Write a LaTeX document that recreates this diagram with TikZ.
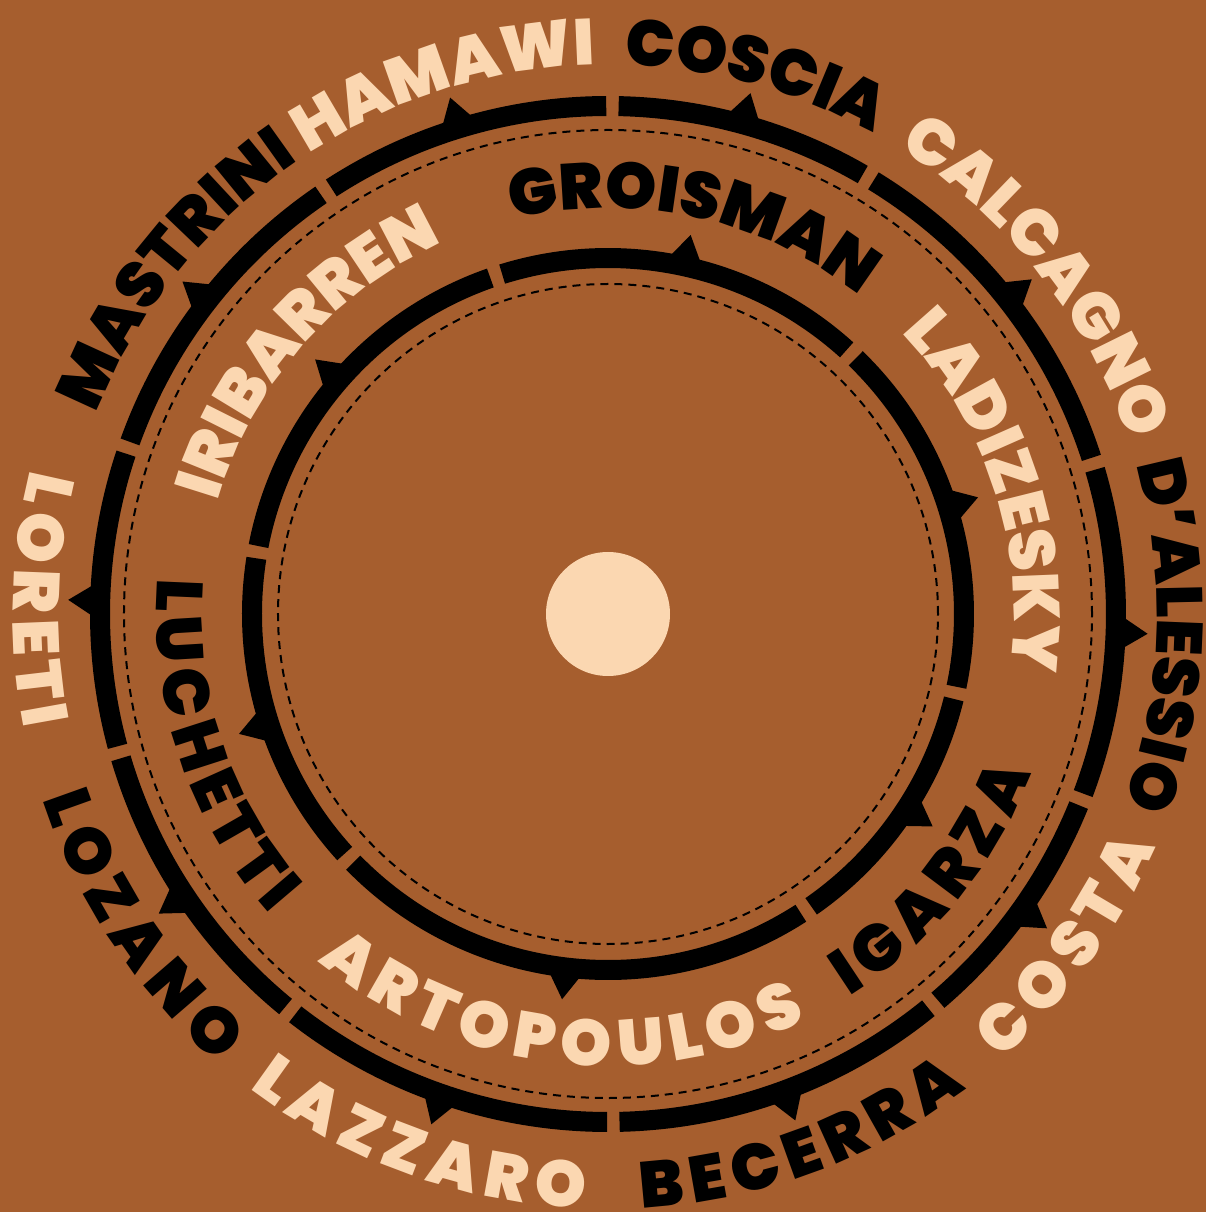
\documentclass[tikz,border=0pt]{standalone}
\usepackage{fontspec}
\newfontfamily\labfont{Poppins Black}
\usetikzlibrary{decorations.text}
\definecolor{bgbrown}{HTML}{A65E2E}
\definecolor{peach}{HTML}{FBD7B1}
\tikzset{
  ringseg/.style={draw=black, line width=20pt, line cap=butt},
  dashline/.style={draw=black, line width=2pt, dash pattern=on 8pt off 6pt},
}
% angle, baseline radius, colour, text  (reads clockwise, tops outward)
\newcommand{\toplab}[4]{%
  \path[decorate,decoration={text along path,text align=center,
    text={|\labfont\fontsize{65}{65}\selectfont\color{#3}|#4}}]
    ({#1+45}:#2) arc[start angle={#1+45}, end angle={#1-45}, radius=#2];}
% reads counter-clockwise, tops inward: angle, spacing radius, raise, colour, text
\newcommand{\botlab}[5]{%
  \path[decorate,decoration={text along path,text align=center,raise=#3,
    text={|\labfont\fontsize{65}{65}\selectfont\color{#4}|#5}}]
    ({#1-55}:#2) arc[start angle={#1-55}, end angle={#1+55}, radius=#2];}
% ring segment: start, end, radius
\newcommand{\ringarc}[3]{\draw[ringseg] (#1:#3) arc[start angle=#1, end angle=#2, radius=#3];}
% pointer triangle: angle, ring radius, half angle of base
\newcommand{\ringtri}[3]{\fill[black] ({#1-#3}:#2) -- (#1:{#2+32pt}) -- ({#1+#3}:#2) -- cycle;}
\begin{document}
\begin{tikzpicture}
\useasboundingbox (-608pt,-598pt) rectangle (598pt,614pt);
\fill[bgbrown] (-608pt,-598pt) rectangle (598pt,614pt);
% dashed guide circles
\draw[dashline] (0,0) circle[radius=484pt];
\draw[dashline] (0,0) circle[radius=330pt];
% outer ring
\ringarc{124.4}{160.2}{508pt}
\ringarc{90.2}{123.0}{508pt}
\ringarc{59.9}{88.8}{508pt}
\ringarc{17.9}{58.5}{508pt}
\ringarc{-20.7}{16.5}{508pt}
\ringarc{-49.5}{-22.1}{508pt}
\ringarc{-88.7}{-50.9}{508pt}
\ringarc{-128.0}{-90.1}{508pt}
\ringarc{-163.5}{-129.4}{508pt}
\ringarc{161.6}{195.1}{508pt}
% inner ring
\ringarc{109.3}{169.0}{356pt}
\ringarc{47.9}{107.3}{356pt}
\ringarc{-11.8}{45.9}{356pt}
\ringarc{-55.2}{-13.8}{356pt}
\ringarc{-135.7}{-57.2}{356pt}
\ringarc{171.0}{222.3}{356pt}
% pointers outer
\foreach \a in {142,107,74.7,38.3,-2.1,-35.6,-69.7,-109.1,-146.3,178.5}{\ringtri{\a}{508pt}{2.3}}
% pointers inner
\foreach \a in {139,77.7,17.5,-33.2,-96.8,-162}{\ringtri{\a}{356pt}{3.3}}
% centre
\node[circle, fill=peach, minimum size=124pt, inner sep=0pt] (hub) at (0,0) {};
% outer labels
\toplab{141.5}{549pt}{black}{MASTRINI}
\toplab{107.2}{549pt}{peach}{HAMAWI}
\toplab{74.7}{549pt}{black}{COSCIA}
\toplab{38.2}{549pt}{peach}{CALCAGNO}
\toplab{-2.2}{549pt}{black}{D’ALESSIO}
\botlab{-35.8}{500pt}{-95pt}{peach}{COSTA}
\botlab{-69.8}{500pt}{-95pt}{black}{BECERRA}
\botlab{-109.6}{500pt}{-95pt}{peach}{LAZZARO}
\botlab{-146.3}{500pt}{-95pt}{black}{LOZANO}
\botlab{178.5}{500pt}{-95pt}{peach}{LORETI}
% inner labels
\toplab{139}{406pt}{peach}{IRIBARREN}
\toplab{77.6}{406pt}{black}{GROISMAN}
\toplab{18}{406pt}{peach}{LADIZESKY}
\botlab{-39}{385pt}{-67pt}{black}{IGARZA}
\botlab{-97}{385pt}{-67pt}{peach}{ARTOPOULOS}
\botlab{-161.5}{385pt}{-67pt}{black}{LUCHETTI}
\end{tikzpicture}
\end{document}
